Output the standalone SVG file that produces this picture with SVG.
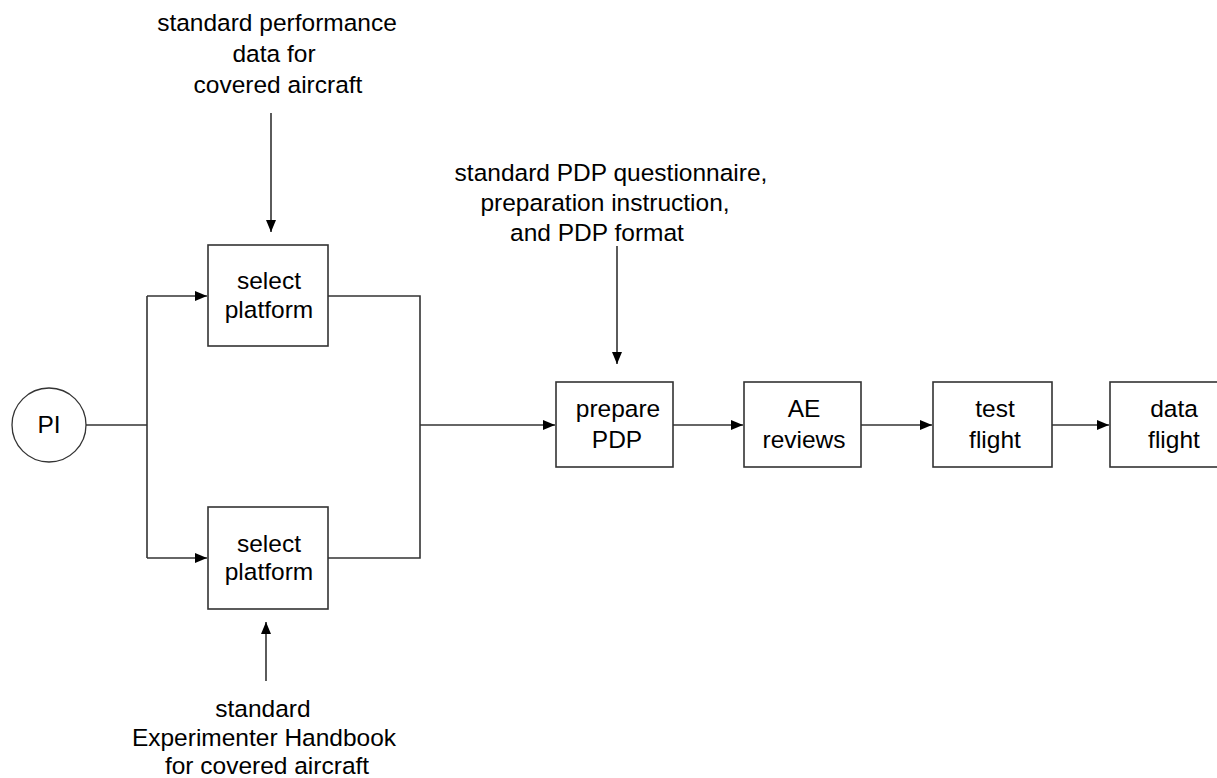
<svg xmlns="http://www.w3.org/2000/svg" width="1217" height="778" viewBox="0 0 1217 778">
<defs>
<marker id="ah" markerUnits="userSpaceOnUse" markerWidth="13" markerHeight="11" refX="12" refY="5.5" orient="auto">
<path d="M0,0.5 L12,5.5 L0,10.5 z" fill="#000"/>
</marker>
<style>
.t{font-family:"Liberation Sans",Arial,sans-serif;font-size:24.5px;fill:#000;text-anchor:middle}
.b{fill:#fff;stroke:#333;stroke-width:1.6}
.c{fill:none;stroke:#333;stroke-width:1.6}
.a{fill:none;stroke:#333;stroke-width:1.6;marker-end:url(#ah)}
</style>
</defs>
<rect width="1217" height="778" fill="#fff"/>
<g id="connectors">
<line class="c" x1="86" y1="425" x2="147" y2="425"/>
<line class="c" x1="147" y1="296" x2="147" y2="558"/>
<line class="a" x1="147" y1="296" x2="207" y2="296"/>
<line class="a" x1="147" y1="558" x2="207" y2="558"/>
<polyline class="c" points="328,296 420,296 420,558 328,558"/>
<line class="a" x1="420" y1="425" x2="555" y2="425"/>
<line class="a" x1="673" y1="425" x2="743" y2="425"/>
<line class="a" x1="861" y1="425" x2="932" y2="425"/>
<line class="a" x1="1052" y1="425" x2="1109" y2="425"/>
<line class="a" x1="271" y1="113" x2="271" y2="232"/>
<line class="a" x1="617" y1="246" x2="617" y2="364"/>
<line class="a" x1="266" y1="681" x2="266" y2="622"/>
</g>
<g id="pi">
<circle cx="49" cy="425" r="37" fill="#fff" stroke="#333" stroke-width="1.3"/>
<text class="t" x="49" y="433">PI</text>
</g>
<g id="select1">
<rect class="b" x="208" y="245" width="120" height="101"/>
<text class="t" x="269" y="289">select</text>
<text class="t" x="269" y="318">platform</text>
</g>
<g id="select2">
<rect class="b" x="208" y="507" width="120" height="102"/>
<text class="t" x="269" y="552">select</text>
<text class="t" x="269" y="580">platform</text>
</g>
<g id="prepare">
<rect class="b" x="556" y="382" width="117" height="85"/>
<text class="t" x="618" y="417">prepare</text>
<text class="t" x="617" y="448">PDP</text>
</g>
<g id="ae">
<rect class="b" x="744" y="382" width="117" height="85"/>
<text class="t" x="804" y="417">AE</text>
<text class="t" x="804" y="448">reviews</text>
</g>
<g id="test">
<rect class="b" x="933" y="382" width="119" height="85"/>
<text class="t" x="995" y="417">test</text>
<text class="t" x="995" y="448">flight</text>
</g>
<g id="data">
<rect class="b" x="1110" y="382" width="128" height="85"/>
<text class="t" x="1174" y="417">data</text>
<text class="t" x="1174" y="448">flight</text>
</g>
<g id="input-performance">
<text class="t" x="277" y="31">standard performance</text>
<text class="t" x="274" y="62">data for</text>
<text class="t" x="278" y="93">covered aircraft</text>
</g>
<g id="input-pdp">
<text class="t" x="611" y="181">standard PDP questionnaire,</text>
<text class="t" x="605" y="211">preparation instruction,</text>
<text class="t" x="597" y="241">and PDP format</text>
</g>
<g id="input-handbook">
<text class="t" x="263" y="717">standard</text>
<text class="t" x="264" y="746">Experimenter Handbook</text>
<text class="t" x="267" y="774">for covered aircraft</text>
</g>
</svg>
